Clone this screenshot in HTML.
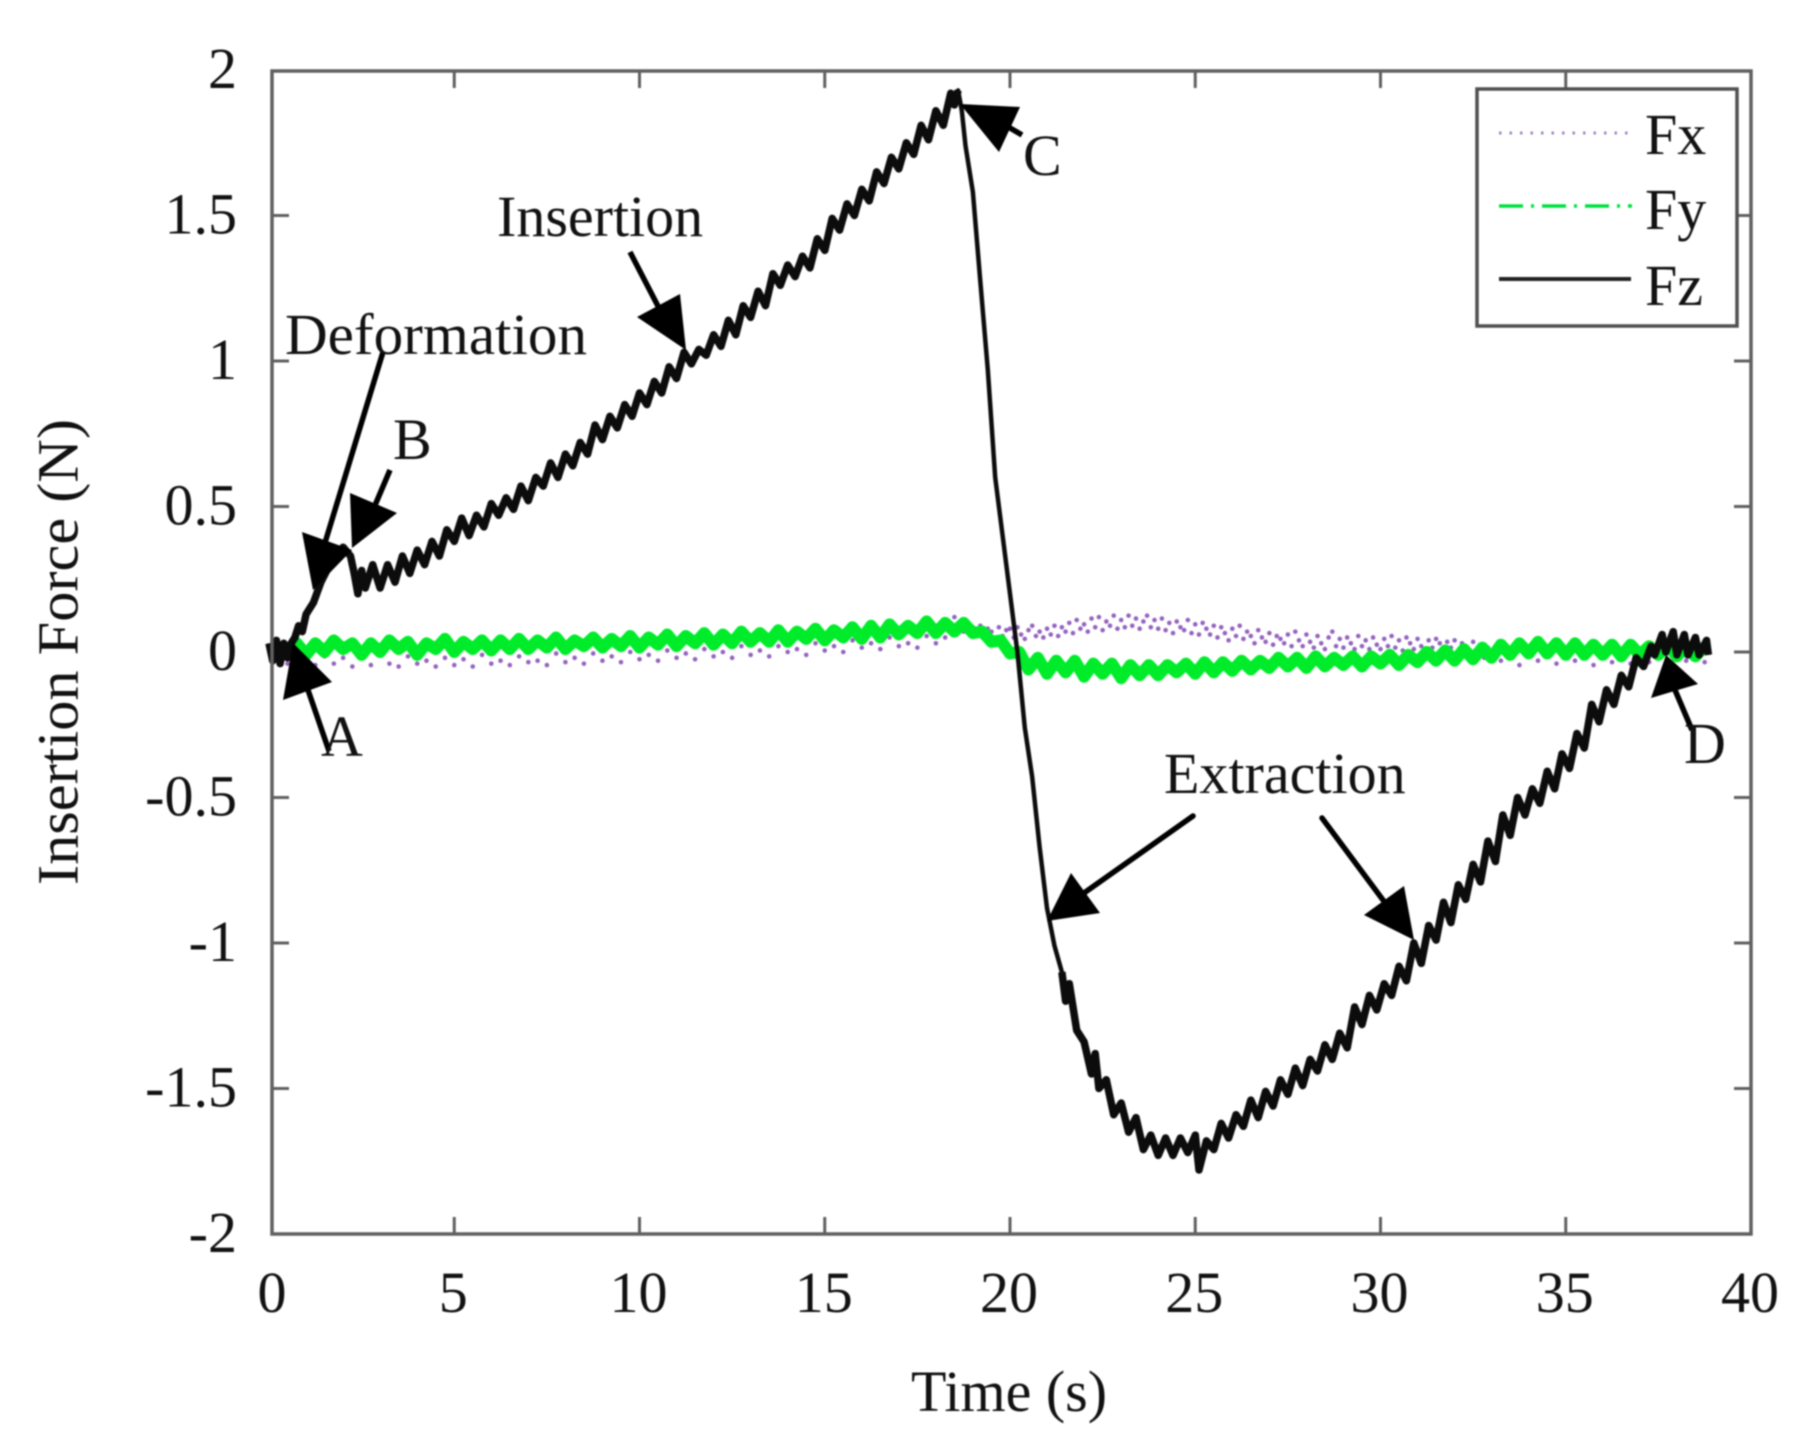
<!DOCTYPE html>
<html lang="en">
<head>
<meta charset="utf-8">
<title>Insertion Force vs Time</title>
<style>
  html, body { margin: 0; padding: 0; background: #fff; }
  #chart { display: block; width: 1803px; height: 1453px; filter: blur(0.8px); }
  text { font-family: "Liberation Serif", serif; font-size: 58px; fill: #111; }
</style>
</head>
<body>
<svg id="chart" xmlns="http://www.w3.org/2000/svg" width="1803" height="1453" viewBox="0 0 1803 1453">
  <rect x="0" y="0" width="1803" height="1453" fill="#ffffff"/>
  <g id="ticks"></g>
  <g id="series"></g>
  <rect x="272" y="71" width="1479" height="1163" fill="none" stroke="#606060" stroke-width="3.5"/>
  <g id="tick-labels"></g>

  <text x="1009" y="1411" text-anchor="middle">Time (s)</text>
  <text transform="translate(77.5,652) rotate(-90)" text-anchor="middle" textLength="466" lengthAdjust="spacingAndGlyphs">Insertion Force (N)</text>

  <g>
    <line x1="329" y1="751" x2="308" y2="690" stroke="#000" stroke-width="5.5"/>
    <polygon points="293,643 332,682 283,700" fill="#000"/>
    <text x="321" y="756">A</text>
  </g>
  <g>
    <line x1="383" y1="352" x2="324" y2="546" stroke="#000" stroke-width="5.5"/>
    <polygon points="302,532 352,550 313,590" fill="#000"/>
    <text x="285" y="354" textLength="302" lengthAdjust="spacingAndGlyphs">Deformation</text>
  </g>
  <g>
    <line x1="390" y1="470" x2="373" y2="510" stroke="#000" stroke-width="5.5"/>
    <polygon points="350,493 397,513 352,548" fill="#000"/>
    <text x="393" y="459">B</text>
  </g>
  <g>
    <line x1="630" y1="252" x2="660" y2="310" stroke="#000" stroke-width="5.5"/>
    <polygon points="680,294 637,317 686,350" fill="#000"/>
    <text x="497" y="236">Insertion</text>
  </g>
  <g>
    <line x1="1022" y1="135" x2="1000" y2="122" stroke="#000" stroke-width="5.5"/>
    <polygon points="960,104 1020,107 999,152" fill="#000"/>
    <text x="1023" y="175">C</text>
  </g>
  <g>
    <line x1="1692" y1="730" x2="1675" y2="690" stroke="#000" stroke-width="5.5"/>
    <polygon points="1666,655 1698,684 1651,698" fill="#000"/>
    <text x="1693" y="763" dx="-9">D</text>
  </g>
  <g>
    <line x1="1193" y1="816" x2="1084" y2="893" stroke="#000" stroke-width="5.5" stroke-linecap="round"/>
    <polygon points="1047,921 1071,873 1100,913" fill="#000"/>
    <line x1="1322" y1="818" x2="1383" y2="900" stroke="#000" stroke-width="5.5" stroke-linecap="round"/>
    <polygon points="1414,940 1404,886 1364,915" fill="#000"/>
    <text x="1164" y="793">Extraction</text>
  </g>

  <g>
    <rect x="1485" y="89" width="260" height="237" fill="#ffffff" stroke="#505050" stroke-width="3.5" transform="translate(-8,0)"/>
    <line x1="1499" y1="133" x2="1629" y2="133" stroke="#a585c0" stroke-width="3" stroke-dasharray="2.5 8"/>
    <text x="1645" y="154">Fx</text>
    <line x1="1499" y1="206" x2="1632" y2="206" stroke="#00e040" stroke-width="3.5" stroke-dasharray="24 8 3 8"/>
    <text x="1645" y="229">Fy</text>
    <line x1="1499" y1="279" x2="1631" y2="279" stroke="#222" stroke-width="4"/>
    <text x="1645" y="305">Fz</text>
  </g>
</svg>
<script>
const xTickLabels = [0, 5, 10, 15, 20, 25, 30, 35, 40];
const yTickLabels = [2, 1.5, 1, 0.5, 0, -0.5, -1, -1.5, -2];

const fzTime = [0,0.1,0.2,0.3,0.4,0.5,0.6,0.7,0.8,0.9,1,1.2,1.4,1.6,1.8,2,2.2,2.3,2.4,2.5,2.6,2.8,3,3.2,3.4,3.6,3.8,4,4.2,4.4,4.6,4.8,5,5.2,5.4,5.6,5.8,6,6.2,6.4,6.6,6.8,7,7.2,7.4,7.6,7.8,8,8.2,8.4,8.6,8.8,9,9.2,9.4,9.6,9.8,10,10.2,10.4,10.6,10.8,11,11.2,11.4,11.6,11.8,12,12.2,12.4,12.6,12.8,13,13.2,13.4,13.6,13.8,14,14.2,14.4,14.6,14.8,15,15.2,15.4,15.6,15.8,16,16.2,16.4,16.6,16.8,17,17.2,17.4,17.6,17.8,18,18.2,18.4,18.5,18.6,18.7,18.8,19,19.2,19.4,19.6,19.8,20,20.2,20.4,20.6,20.8,21,21.2,21.4,21.5,21.6,21.8,22,22.2,22.3,22.4,22.6,22.8,23,23.2,23.4,23.6,23.8,24,24.2,24.4,24.6,24.8,25,25.1,25.3,25.5,25.7,25.9,26.1,26.3,26.5,26.7,26.9,27.1,27.3,27.5,27.7,27.9,28.1,28.3,28.5,28.7,28.9,29.1,29.3,29.5,29.7,29.9,30.1,30.3,30.5,30.7,30.9,31.1,31.3,31.5,31.7,31.9,32.1,32.3,32.5,32.7,32.9,33.1,33.3,33.5,33.7,33.9,34.1,34.3,34.5,34.7,34.9,35.1,35.3,35.5,35.7,35.9,36.1,36.3,36.5,36.7,36.9,37.1,37.3,37.4,37.6,37.7,37.9,38,38.2,38.3,38.5,38.6,38.8,38.85];
const fzForce = [0.03,-0.03,0.04,-0.04,0.03,-0.02,0.03,0.05,0.09,0.07,0.13,0.17,0.24,0.29,0.33,0.36,0.33,0.27,0.2,0.28,0.22,0.3,0.22,0.3,0.24,0.33,0.27,0.35,0.3,0.38,0.33,0.42,0.38,0.46,0.4,0.47,0.43,0.51,0.47,0.53,0.49,0.57,0.52,0.6,0.57,0.65,0.6,0.68,0.64,0.72,0.68,0.78,0.73,0.81,0.77,0.85,0.81,0.89,0.85,0.93,0.89,0.98,0.94,1.03,0.99,1.04,1.02,1.09,1.05,1.14,1.09,1.19,1.15,1.24,1.19,1.3,1.26,1.33,1.29,1.36,1.32,1.42,1.38,1.49,1.45,1.54,1.5,1.59,1.55,1.65,1.61,1.7,1.66,1.75,1.71,1.81,1.76,1.86,1.81,1.92,1.88,1.93,1.86,1.74,1.58,1.27,0.97,0.6,0.4,0.2,0,-0.26,-0.43,-0.67,-0.88,-1.01,-1.1,-1.2,-1.14,-1.3,-1.34,-1.45,-1.38,-1.5,-1.47,-1.59,-1.55,-1.65,-1.6,-1.71,-1.66,-1.73,-1.67,-1.73,-1.67,-1.72,-1.66,-1.78,-1.68,-1.71,-1.62,-1.67,-1.59,-1.63,-1.54,-1.6,-1.51,-1.56,-1.47,-1.52,-1.43,-1.49,-1.4,-1.44,-1.35,-1.4,-1.31,-1.36,-1.22,-1.28,-1.18,-1.23,-1.14,-1.18,-1.08,-1.13,-1,-1.07,-0.94,-0.99,-0.86,-0.93,-0.8,-0.85,-0.73,-0.79,-0.65,-0.72,-0.56,-0.63,-0.5,-0.56,-0.47,-0.52,-0.41,-0.47,-0.35,-0.4,-0.28,-0.33,-0.18,-0.24,-0.13,-0.18,-0.08,-0.12,-0.02,-0.05,0.02,-0.01,0.06,0,0.07,-0.01,0.06,-0.01,0.05,-0.01,0.04,-0.01];

const fyTime = [0.5,0.75,1,1.25,1.5,1.75,2,2.25,2.5,2.75,3,3.25,3.5,3.75,4,4.25,4.5,4.75,5,5.25,5.5,5.75,6,6.25,6.5,6.75,7,7.25,7.5,7.75,8,8.25,8.5,8.75,9,9.25,9.5,9.75,10,10.25,10.5,10.75,11,11.25,11.5,11.75,12,12.25,12.5,12.75,13,13.25,13.5,13.75,14,14.25,14.5,14.75,15,15.25,15.5,15.75,16,16.25,16.5,16.75,17,17.25,17.5,17.75,18,18.25,18.5,18.75,19,19.25,19.5,19.75,20,20.25,20.5,20.75,21,21.25,21.5,21.75,22,22.25,22.5,22.75,23,23.25,23.5,23.75,24,24.25,24.5,24.75,25,25.25,25.5,25.75,26,26.25,26.5,26.75,27,27.25,27.5,27.75,28,28.25,28.5,28.75,29,29.25,29.5,29.75,30,30.25,30.5,30.75,31,31.25,31.5,31.75,32,32.25,32.5,32.75,33,33.25,33.5,33.75,34,34.25,34.5,34.75,35,35.25,35.5,35.75,36,36.25,36.5,36.75,37,37.25,37.5,37.75,38,38.25,38.5,38.75];
const fyForce = [0.01,0.03,-0.01,0.03,0,0.04,0.01,0.03,-0.01,0.03,0,0.04,0.01,0.035,-0.01,0.03,0.01,0.045,0,0.035,0.01,0.04,0.005,0.04,0.01,0.045,0.01,0.04,0.015,0.05,0.01,0.04,0.02,0.05,0.015,0.045,0.02,0.055,0.015,0.05,0.025,0.06,0.02,0.055,0.03,0.065,0.025,0.06,0.03,0.07,0.035,0.065,0.035,0.075,0.035,0.07,0.045,0.08,0.04,0.075,0.05,0.085,0.045,0.09,0.05,0.095,0.06,0.09,0.065,0.105,0.065,0.1,0.07,0.1,0.065,0.07,0.035,0.04,-0.005,0,-0.06,-0.02,-0.075,-0.03,-0.07,-0.03,-0.085,-0.04,-0.075,-0.04,-0.09,-0.045,-0.08,-0.045,-0.08,-0.045,-0.07,-0.04,-0.075,-0.035,-0.07,-0.035,-0.065,-0.03,-0.06,-0.03,-0.055,-0.02,-0.05,-0.02,-0.055,-0.015,-0.05,-0.02,-0.045,-0.015,-0.05,-0.015,-0.04,-0.01,-0.045,-0.01,-0.035,0,-0.03,0.005,-0.03,0.01,-0.025,0.015,-0.02,0.025,-0.01,0.03,-0.005,0.035,-0.005,0.03,-0.01,0.03,-0.01,0.025,-0.01,0.025,-0.015,0.025,-0.01,0.02,-0.01,0.025,-0.015,0.02,-0.015,0.02];

const fxTime = [0.25,0.5,0.75,1,1.25,1.5,1.75,2,2.25,2.5,2.75,3,3.25,3.5,3.75,4,4.25,4.5,4.75,5,5.25,5.5,5.75,6,6.25,6.5,6.75,7,7.25,7.5,7.75,8,8.25,8.5,8.75,9,9.25,9.5,9.75,10,10.25,10.5,10.75,11,11.25,11.5,11.75,12,12.25,12.5,12.75,13,13.25,13.5,13.75,14,14.25,14.5,14.75,15,15.25,15.5,15.75,16,16.25,16.5,16.75,17,17.25,17.5,17.75,18,18.25,18.5,18.75,
19,19.1,19.2,19.3,19.4,19.5,19.6,19.7,19.8,19.9,20,20.1,20.2,20.3,20.4,20.5,20.6,20.7,20.8,20.9,21,21.1,21.2,21.3,21.4,21.5,21.6,21.7,21.8,21.9,22,22.1,22.2,22.3,22.4,22.5,22.6,22.7,22.8,22.9,23,23.1,23.2,23.3,23.4,23.5,23.6,23.7,23.8,23.9,24,24.1,24.2,24.3,24.4,24.5,24.6,24.7,24.8,24.9,25,25.1,25.2,25.3,25.4,25.5,25.6,25.7,25.8,25.9,26,26.1,26.2,26.3,26.4,26.5,26.6,26.7,26.8,26.9,27,27.1,27.2,27.3,27.4,27.5,27.6,27.7,27.8,27.9,28,28.1,28.2,28.3,28.4,28.5,28.6,28.7,28.8,28.9,29,29.1,29.2,29.3,29.4,29.5,29.6,29.7,29.8,29.9,30,30.1,30.2,30.3,30.4,30.5,30.6,30.7,30.8,30.9,31,31.1,31.2,31.3,31.4,31.5,31.6,31.7,31.8,31.9,32,32.1,32.2,32.3,32.4,32.5,32.6,32.7,32.8,32.9,
33.25,33.5,33.75,34,34.25,34.5,34.75,35,35.25,35.5,35.75,36,36.25,36.5,36.75,37,37.25,37.5,37.75,38,38.25,38.5,38.75];
const fxForce = [-0.02,-0.04,-0.01,-0.035,-0.045,-0.015,-0.04,-0.02,-0.05,-0.02,-0.045,-0.01,-0.04,-0.05,-0.015,-0.04,-0.03,-0.05,-0.02,-0.045,-0.025,-0.05,-0.01,-0.04,-0.03,-0.045,-0.015,-0.035,-0.03,-0.045,-0.005,-0.035,-0.02,-0.04,-0.005,-0.03,-0.015,-0.035,0,-0.025,-0.01,-0.03,0.005,-0.02,-0.005,-0.025,0.01,-0.015,0,-0.02,0.02,-0.01,0.005,-0.015,0.02,0,0.01,-0.01,0.03,0.005,0.02,0,0.04,0.015,0.03,0.01,0.05,0.02,0.03,0.015,0.055,0.03,0.05,0.12,0.07,
0.085,0.06,0.09,0.05,0.08,0.07,0.045,0.085,0.055,0.075,0.08,0.05,0.085,0.06,0.045,0.075,0.09,0.055,0.07,0.05,0.08,0.06,0.09,0.055,0.085,0.07,0.1,0.065,0.11,0.08,0.095,0.07,0.115,0.085,0.12,0.075,0.105,0.09,0.125,0.08,0.11,0.085,0.125,0.09,0.115,0.08,0.105,0.125,0.085,0.11,0.08,0.115,0.075,0.1,0.065,0.105,0.085,0.075,0.11,0.065,0.095,0.06,0.1,0.08,0.06,0.09,0.05,0.085,0.065,0.04,0.08,0.055,0.09,0.045,0.07,0.055,0.03,0.075,0.05,0.035,0.065,0.025,0.055,0.045,0.03,0.06,0.02,0.07,0.04,0.02,0.06,0.035,0.015,0.055,0.03,0.01,0.05,0.07,0.02,0.045,0.015,0.05,0.03,0.01,0.055,0.02,0.04,0.01,0.05,0.025,0.01,0.045,0.02,0.055,0.015,0.04,0.005,0.05,0.03,0.01,0.045,0.02,0.005,0.04,0.015,0.045,0.03,0.005,0.035,0.015,0.04,0.0,0.03,0.02,-0.005,0.035,0.01,0.025,
-0.02,0.015,-0.03,-0.01,-0.045,-0.005,-0.03,-0.015,-0.04,-0.005,-0.03,-0.02,-0.045,-0.01,-0.035,-0.02,-0.04,-0.01,-0.035,-0.015,-0.03,-0.01,-0.03,-0.02,-0.035,-0.015,-0.03,-0.02,-0.035,-0.01,-0.03];

const svgNS = 'http://www.w3.org/2000/svg';
const xScale = t => 269 + 37.05 * t;
const yScale = v => 652 - 291 * v;
const frameLeft = 272, frameRight = 1751, frameTop = 71, frameBottom = 1234;
const tickLength = 17;
const fastPullStart = 18.7, fastPullEnd = 21.3;

const ticksGroup = document.getElementById('ticks');
const labelsGroup = document.getElementById('tick-labels');
const seriesGroup = document.getElementById('series');

function makeLine(x1, y1, x2, y2) {
  const line = document.createElementNS(svgNS, 'line');
  line.setAttribute('x1', x1);
  line.setAttribute('y1', y1);
  line.setAttribute('x2', x2);
  line.setAttribute('y2', y2);
  line.setAttribute('stroke', '#606060');
  line.setAttribute('stroke-width', '3');
  return line;
}

xTickLabels.forEach(value => {
  const x = xScale(value);
  if (value > 0 && value < 40) {
    const bottomTick = makeLine(x, frameBottom, x, frameBottom - tickLength);
    
    
    ticksGroup.appendChild(bottomTick);
    const topTick = makeLine(x, frameTop, x, frameTop + tickLength);
    
    
    ticksGroup.appendChild(topTick);
  }
  const label = document.createElementNS(svgNS, 'text');
  
  
  label.setAttribute('x', x + (value === 0 ? 3 : -1));
  label.setAttribute('y', 1312);
  label.setAttribute('text-anchor', 'middle');
  label.textContent = String(value);
  labelsGroup.appendChild(label);
});

yTickLabels.forEach(value => {
  const y = yScale(value);
  if (value > -2 && value < 2) {
    const leftTick = makeLine(frameLeft, y, frameLeft + tickLength, y);
    
    
    ticksGroup.appendChild(leftTick);
    const rightTick = makeLine(frameRight, y, frameRight - tickLength, y);
    
    
    ticksGroup.appendChild(rightTick);
  }
  const label = document.createElementNS(svgNS, 'text');
  
  
  label.setAttribute('x', 237);
  label.setAttribute('y', y + 18);
  label.setAttribute('text-anchor', 'end');
  label.textContent = String(value);
  labelsGroup.appendChild(label);
});

fxTime.forEach((t, i) => {
  const dot = document.createElementNS(svgNS, 'circle');
  
  
  dot.setAttribute('cx', xScale(t));
  dot.setAttribute('cy', yScale(fxForce[i]));
  dot.setAttribute('r', '2.3');
  dot.setAttribute('fill', '#6f2fa8');
  dot.setAttribute('fill-opacity', '0.75');
  seriesGroup.appendChild(dot);
});

function pathFrom(times, values, keep) {
  let d = '';
  let pen = false;
  times.forEach((t, i) => {
    if (!keep(t)) { pen = false; return; }
    d += (pen ? 'L' : 'M') + xScale(t).toFixed(1) + ' ' + yScale(values[i]).toFixed(1) + ' ';
    pen = true;
  });
  return d;
}

const fyLine = document.createElementNS(svgNS, 'path');


fyLine.setAttribute('d', pathFrom(fyTime, fyForce, () => true));
fyLine.setAttribute('fill', 'none');
fyLine.setAttribute('stroke', '#00ec2a');
fyLine.setAttribute('stroke-width', '12');
fyLine.setAttribute('stroke-linejoin', 'round');
seriesGroup.appendChild(fyLine);

const fzLine = document.createElementNS(svgNS, 'path');


fzLine.setAttribute('d', pathFrom(fzTime, fzForce, () => true));
fzLine.setAttribute('fill', 'none');
fzLine.setAttribute('stroke', '#0c0c0c');
fzLine.setAttribute('stroke-width', '4.5');
fzLine.setAttribute('stroke-linejoin', 'round');
seriesGroup.appendChild(fzLine);

const fzNoiseBand = document.createElementNS(svgNS, 'path');


fzNoiseBand.setAttribute('d', pathFrom(fzTime, fzForce, t => t < fastPullStart || t > fastPullEnd));
fzNoiseBand.setAttribute('fill', 'none');
fzNoiseBand.setAttribute('stroke', '#0c0c0c');
fzNoiseBand.setAttribute('stroke-width', '7.5');
fzNoiseBand.setAttribute('stroke-linejoin', 'round');
seriesGroup.appendChild(fzNoiseBand);
</script>
</body>
</html>
